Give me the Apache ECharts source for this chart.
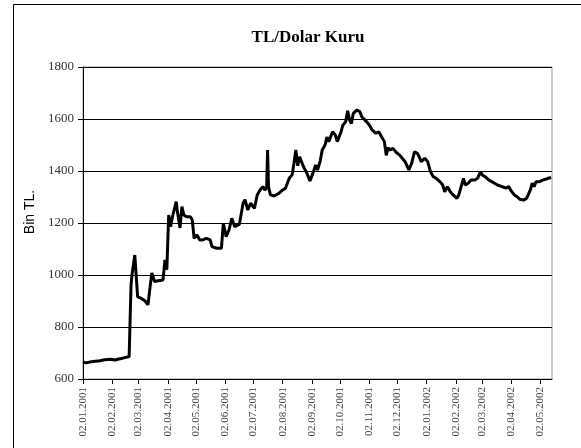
<!DOCTYPE html>
<html>
<head>
<meta charset="utf-8">
<script src="https://cdn.jsdelivr.net/npm/echarts@6/dist/echarts.min.js"></script>
<style>
  html, body { margin: 0; padding: 0; background: #fff; }
  #chart { width: 581px; height: 448px; }
</style>
</head>
<body>
<div id="chart"></div>
<script>
// TL/Dolar kuru, bin TL
const dates = [
  '2001-01-02','2001-01-05','2001-01-09','2001-01-15','2001-01-20','2001-01-25','2001-01-31',
  '2001-02-05','2001-02-09','2001-02-13','2001-02-16','2001-02-20','2001-02-21','2001-02-22','2001-02-23','2001-02-26',
  '2001-03-01','2001-03-05','2001-03-09','2001-03-12','2001-03-16','2001-03-19','2001-03-23','2001-03-28','2001-03-30',
  '2001-04-01','2001-04-03','2001-04-05','2001-04-07','2001-04-11','2001-04-12','2001-04-15','2001-04-17','2001-04-19',
  '2001-04-22','2001-04-26','2001-04-28','2001-04-30',
  '2001-05-03','2001-05-06','2001-05-09','2001-05-13','2001-05-17','2001-05-19','2001-05-24','2001-05-29','2001-05-31',
  '2001-06-03','2001-06-06','2001-06-08','2001-06-09','2001-06-12','2001-06-17','2001-06-19','2001-06-21','2001-06-23',
  '2001-06-26','2001-06-29',
  '2001-07-03','2001-07-06','2001-07-09','2001-07-11','2001-07-12','2001-07-14','2001-07-16','2001-07-17','2001-07-18',
  '2001-07-20','2001-07-24','2001-07-29',
  '2001-08-02','2001-08-05','2001-08-09','2001-08-12','2001-08-14','2001-08-16','2001-08-18','2001-08-20','2001-08-24',
  '2001-08-27','2001-08-31',
  '2001-09-03','2001-09-06','2001-09-08','2001-09-11','2001-09-13','2001-09-16','2001-09-18','2001-09-20','2001-09-24',
  '2001-09-27','2001-09-29',
  '2001-10-03','2001-10-05','2001-10-08','2001-10-10','2001-10-12','2001-10-14','2001-10-16','2001-10-18','2001-10-20',
  '2001-10-23','2001-10-25','2001-10-27','2001-10-30',
  '2001-11-02','2001-11-05','2001-11-09','2001-11-12','2001-11-15','2001-11-18','2001-11-20','2001-11-22','2001-11-24',
  '2001-11-27',
  '2001-12-01','2001-12-04','2001-12-07','2001-12-10','2001-12-14','2001-12-17','2001-12-20','2001-12-23','2001-12-25',
  '2001-12-27','2001-12-31',
  '2002-01-03','2002-01-06','2002-01-09','2002-01-12','2002-01-16','2002-01-19','2002-01-21','2002-01-24','2002-01-27',
  '2002-01-30',
  '2002-02-03','2002-02-05','2002-02-08','2002-02-10','2002-02-12','2002-02-15','2002-02-18','2002-02-22','2002-02-25',
  '2002-02-28',
  '2002-03-02','2002-03-05','2002-03-09','2002-03-12','2002-03-15','2002-03-18','2002-03-20','2002-03-23','2002-03-27',
  '2002-03-30',
  '2002-04-01','2002-04-03','2002-04-05','2002-04-08','2002-04-11','2002-04-15','2002-04-18','2002-04-20','2002-04-22',
  '2002-04-24','2002-04-26','2002-04-28',
  '2002-05-02','2002-05-05','2002-05-08','2002-05-11','2002-05-14'
];
const rates = [
  666, 662, 665, 668, 670, 674, 676,
  673, 677, 680, 683, 686, 688, 960, 1000, 1077,
  916, 910, 900, 885, 1008, 975, 978, 981, 1058,
  1020, 1231, 1186, 1224, 1282, 1250, 1181, 1263, 1231,
  1224, 1224, 1212, 1141,
  1154, 1135, 1135, 1141, 1135, 1109, 1103, 1103, 1199,
  1147, 1173, 1179, 1218, 1186, 1195, 1235, 1276, 1290,
  1250, 1276,
  1256, 1308, 1327, 1320, 1340, 1327, 1335, 1481, 1340,
  1308, 1304, 1314,
  1327, 1334, 1372, 1385, 1430, 1481, 1420, 1455, 1417,
  1397, 1362,
  1390, 1423, 1404, 1440, 1481, 1500, 1530, 1513, 1551,
  1538, 1513,
  1551, 1577, 1590, 1632, 1596, 1583, 1622, 1615, 1635,
  1628, 1609, 1603, 1590,
  1577, 1558, 1545, 1551, 1532, 1513, 1460, 1490, 1481,
  1487,
  1470, 1462, 1449, 1436, 1404, 1430, 1474, 1468, 1455,
  1436, 1449,
  1436, 1397, 1378, 1372, 1359, 1346, 1320, 1340, 1320,
  1308,
  1295, 1308, 1346, 1372, 1346, 1353, 1365, 1365, 1372,
  1397,
  1385, 1378, 1365, 1359, 1353, 1346, 1353, 1340, 1334,
  1340,
  1327, 1327, 1308, 1301, 1291, 1288, 1295, 1295, 1327,
  1353, 1340, 1359,
  1359, 1365, 1368, 1372, 1375
];
const tickDates = [
  '2001-01-02','2001-02-02','2001-03-02','2001-04-02','2001-05-02','2001-06-02','2001-07-02','2001-08-02',
  '2001-09-02','2001-10-02','2001-11-02','2001-12-02','2002-01-02','2002-02-02','2002-03-02','2002-04-02','2002-05-02'
];
const axisStart = '2001-01-02';
const axisEnd = '2002-05-15';

function toTime(s) {
  const p = s.split('-').map(Number);
  return Date.UTC(p[0], p[1] - 1, p[2]);
}
function pad(n) { return n < 10 ? '0' + n : '' + n; }

const chart = echarts.init(document.getElementById('chart'));
const tickTimes = tickDates.map(toTime);

const option = {
  animation: false,
  backgroundColor: '#fff',
  title: {
    text: 'TL/Dolar Kuru',
    left: 303,
    top: 24,
    textAlign: 'center',
    textStyle: {
      fontFamily: 'Liberation Serif',
      fontSize: 17,
      fontWeight: 'bold',
      color: '#000'
    }
  },
  // outer chart frame (only left and top edges fall inside the picture)
  graphic: [{
    type: 'polyline',
    shape: { points: [[13.5, 460], [13.5, 4.5], [600, 4.5]] },
    style: { fill: null, stroke: '#000', lineWidth: 1 },
    silent: true
  }],
  grid: {
    left: 83,
    right: 29,
    top: 67,
    bottom: 69,
    show: true,
    borderColor: '#999',
    borderWidth: 1
  },
  xAxis: {
    type: 'value',
    min: toTime(axisStart),
    max: toTime(axisEnd),
    axisLine: { lineStyle: { color: '#000', width: 1 } },
    axisTick: {
      show: true,
      length: 5,
      customValues: tickTimes,
      lineStyle: { color: '#000' }
    },
    axisLabel: {
      customValues: tickTimes,
      rotate: 90,
      margin: 8,
      fontFamily: 'Liberation Serif',
      fontSize: 11,
      color: '#444',
      formatter: function (v) {
        const d = new Date(v);
        return pad(d.getUTCDate()) + '.' + pad(d.getUTCMonth() + 1) + '.' + d.getUTCFullYear();
      }
    },
    splitLine: { show: false }
  },
  yAxis: {
    type: 'value',
    min: 600,
    max: 1800,
    interval: 200,
    name: 'Bin TL.',
    nameLocation: 'middle',
    nameGap: 41,
    nameTextStyle: {
      fontFamily: 'Liberation Sans',
      fontSize: 14,
      color: '#000',
      padding: [0, 0, 0, 22]
    },
    axisLine: { show: true, lineStyle: { color: '#000', width: 1 } },
    axisTick: { show: true, length: 5, lineStyle: { color: '#000' } },
    axisLabel: {
      margin: 9,
      fontFamily: 'Liberation Serif',
      fontSize: 13,
      color: '#333',
      formatter: function (v) { return String(v); }
    },
    splitLine: { show: true, lineStyle: { color: '#000', width: 1 } }
  },
  series: [{
    name: 'TL/Dolar',
    type: 'line',
    data: dates.map((d, i) => [toTime(d), rates[i]]),
    showSymbol: false,
    lineStyle: { color: '#000', width: 3 },
    z: 5
  }]
};

chart.setOption(option);
</script>
</body>
</html>
